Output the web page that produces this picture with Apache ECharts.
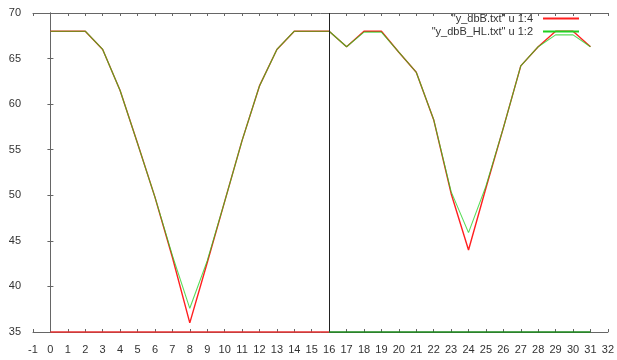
<!DOCTYPE html>
<html>
<head>
<meta charset="utf-8">
<script src="https://cdn.jsdelivr.net/npm/echarts@6/dist/echarts.min.js"></script>
<style>
html,body{margin:0;padding:0;background:#fff;}
#c{width:617px;height:360px;}
</style>
</head>
<body>
<div id="c"></div>
<script>
// Data
var xs = [0,1,2,3,4,5,6,7,8,9,10,11,12,13,14,15,16,17,18,19,20,21,22,23,24,25,26,27,28,29,30,31];
var redVals =   [68,68,68,66,61.5,55.7,49.8,43.2,36.0,42.6,49.3,56.0,62.0,66.0,68,68,68,66.3,68,68,65.7,63.5,58.3,50.2,44.0,50.8,57.4,64.2,66.3,68,68,66.3];
var greenVals = [68,68,68,66,61.5,55.7,49.8,43.4,37.6,42.8,49.3,56.0,62.0,66.0,68,68,68,66.3,67.9,67.9,65.7,63.5,58.3,50.4,45.9,51.0,57.4,64.2,66.3,67.6,67.6,66.3];
var redFloorX = [0,16];
var greenFloorX = [16,31];
var floorVal = 35;
var dividerX = 16;
var xTicks = {min:-1, max:32, step:1};
var yTicks = {min:35, max:70, step:5};
var seriesNames = ['"y_dbB.txt" u 1:4', '"y_dbB_HL.txt" u 1:2'];

function pairs(xArr, yArr){ return xArr.map(function(x,i){ return [x, yArr[i]]; }); }
function flat(xArr, v){ return xArr.map(function(x){ return [x, v]; }); }

var RED = '#ff2020', GREEN = '#20d020', AX = '#666';
var font = 'Liberation Sans';
var chart = echarts.init(document.getElementById('c'), null, {renderer:'canvas'});
var baseX = {type:'value', min:xTicks.min, max:xTicks.max, interval:xTicks.step,
  axisLine:{show:true, lineStyle:{color:AX, width:1}},
  axisTick:{show:true, inside:true, length:3, lineStyle:{color:AX}},
  splitLine:{show:false}};
var baseY = {type:'value', min:yTicks.min, max:yTicks.max, interval:yTicks.step,
  axisLine:{show:true, lineStyle:{color:AX, width:1}},
  axisTick:{show:true, inside:true, length:3, lineStyle:{color:AX}},
  splitLine:{show:false}};
chart.setOption({
  animation:false,
  backgroundColor:'#fff',
  grid:{left:33, right:9, top:13, bottom:28, containLabel:false},
  legend:{
    orient:'vertical', align:'right', right:33, top:8,
    itemWidth:36, itemHeight:2, itemGap:2, icon:'rect',
    data:seriesNames,
    textStyle:{fontFamily:font, fontSize:11, color:'#333', padding:[0,5,0,0]}
  },
  xAxis:[
    Object.assign({}, baseX, {position:'bottom',
      axisLabel:{show:true, margin:12, fontFamily:font, fontSize:11, color:'#333', showMinLabel:true, showMaxLabel:true, hideOverlap:false}}),
    Object.assign({}, baseX, {position:'top', axisLabel:{show:false}})
  ],
  yAxis:[
    Object.assign({}, baseY, {position:'left',
      axisLabel:{show:true, margin:12, fontFamily:font, fontSize:11, color:'#333'}}),
    Object.assign({}, baseY, {position:'right', axisLabel:{show:false}})
  ],
  series:[
    {name:seriesNames[0], type:'line', data:pairs(xs, redVals), symbol:'none', color:RED,
     lineStyle:{color:RED, width:1.4}, z:3,
     markLine:{silent:true, symbol:'none', label:{show:false}, lineStyle:{color:'#222', type:'solid', width:1},
       data:[{xAxis:dividerX}]}},
    {name:seriesNames[1], type:'line', data:pairs(xs, greenVals), symbol:'none', color:GREEN,
     lineStyle:{color:GREEN, width:1.1, opacity:0.75}, z:4},
    {name:'floorRed', type:'line', data:flat(redFloorX, floorVal), symbol:'none', clip:false,
     lineStyle:{color:'#e83030', width:1.5}, z:5},
    {name:'floorGreen', type:'line', data:flat(greenFloorX, floorVal), symbol:'none', clip:false,
     lineStyle:{color:'#1a8a1a', width:1.5}, z:5}
  ]
});
</script>
</body>
</html>
